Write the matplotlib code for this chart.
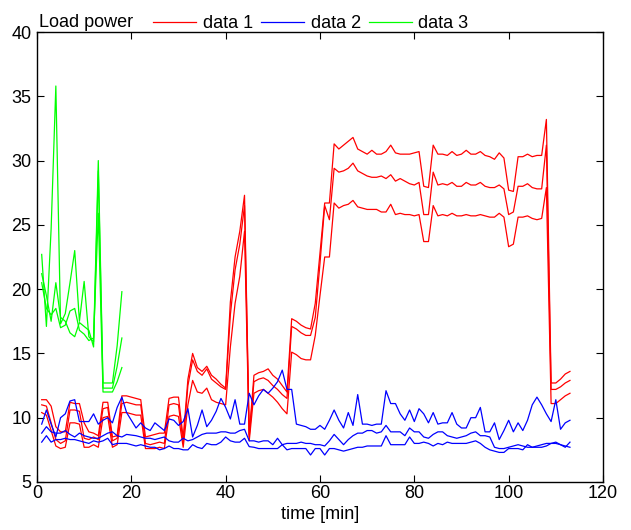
import matplotlib
matplotlib.use('Agg')
import matplotlib.pyplot as plt
import numpy as np
import matplotlib.ticker as ticker

plt.rcParams['font.family'] = ['Liberation Sans', 'DejaVu Sans']

# data 1 (red), three curves
red_lo = [10.4, 10.2, 9.0, 7.8, 7.6, 7.7, 9.6, 9.6, 9.5, 7.7,
          7.7, 7.9, 7.7, 10.0, 10.1, 7.7, 7.9, 10.4, 10.4, 10.3,
          10.2, 10.2, 7.6, 7.6, 7.6, 7.7, 7.6, 10.1, 10.2, 10.1,
          7.7, 11.0, 12.9, 12.0, 11.9, 12.3, 11.4, 11.2, 11.1, 11.0,
          15.5, 18.9, 21.0, 24.5, 8.2, 11.9, 12.1, 12.2, 11.9, 11.6,
          11.2, 10.7, 10.3, 15.1, 14.9, 14.6, 14.5, 14.5, 16.4, 19.5,
          22.5, 22.5, 26.7, 26.3, 26.5, 26.6, 26.9, 26.4, 26.3, 26.2,
          26.2, 26.2, 26.0, 26.0, 26.6, 25.8, 25.9, 25.8, 25.8, 25.7,
          25.8, 23.7, 23.7, 26.5, 25.7, 25.8, 25.7, 25.9, 25.7, 25.7,
          25.8, 25.7, 25.7, 25.8, 25.7, 25.6, 25.6, 25.9, 25.6, 23.3,
          23.5, 25.6, 25.6, 25.7, 25.5, 25.4, 25.5, 27.9, 11.1, 11.1,
          11.4, 11.7, 11.9]
red_mid = [11.0, 10.9, 9.6, 8.3, 8.0, 8.2, 10.6, 10.6, 10.5, 8.4,
           8.3, 8.5, 8.3, 10.7, 10.8, 8.2, 8.4, 11.1, 11.2, 11.1,
           11.0, 11.0, 8.0, 7.9, 8.0, 8.1, 8.0, 11.0, 11.1, 11.0,
           8.0, 12.5, 14.5, 13.6, 13.3, 13.8, 13.0, 12.7, 12.4, 12.2,
           18.0, 21.5, 23.5, 26.5, 8.5, 12.8, 13.0, 13.1, 12.9, 12.5,
           12.2, 11.8, 11.5, 17.1, 16.9, 16.6, 16.4, 16.4, 17.8, 22.0,
           26.5, 25.4, 29.4, 29.1, 29.2, 29.4, 29.8, 29.2, 29.0, 28.8,
           28.7, 28.7, 28.8, 28.6, 28.9, 28.4, 28.6, 28.4, 28.2, 28.1,
           28.3, 25.8, 25.8, 29.1, 28.1, 28.2, 28.1, 28.3, 28.0, 28.0,
           28.3, 28.1, 28.1, 28.3, 28.0, 27.9, 27.9, 28.1, 27.8, 25.8,
           26.0, 28.0, 28.0, 28.2, 27.9, 27.8, 27.8, 31.2, 12.2, 12.2,
           12.4, 12.7, 12.9]
red_hi = [11.4, 11.4, 10.9, 9.3, 8.9, 8.9, 11.2, 11.1, 11.1, 9.6,
          8.9, 8.8, 8.6, 11.2, 11.2, 8.5, 8.6, 11.7, 11.7, 11.6,
          11.5, 11.4, 8.5, 8.6, 8.7, 8.8, 8.8, 11.5, 11.6, 11.6,
          8.4, 13.0, 15.0, 13.9, 13.6, 14.0, 13.3, 13.0, 12.6, 12.3,
          19.0, 22.5, 24.5, 27.3, 8.7, 13.3, 13.5, 13.6, 13.8, 13.3,
          13.0, 12.5, 12.0, 17.7, 17.5, 17.2, 17.0, 16.9, 18.9, 22.8,
          26.7, 26.7, 31.3, 30.9, 31.2, 31.5, 31.8, 30.9, 30.7, 30.5,
          30.8, 30.5, 30.5, 30.7, 31.2, 30.6, 30.5, 30.5, 30.5, 30.6,
          30.7, 28.0, 27.9, 31.2, 30.5, 30.5, 30.4, 30.7, 30.4, 30.5,
          30.8, 30.5, 30.5, 30.7, 30.4, 30.3, 30.1, 30.6, 30.2, 27.7,
          27.6, 30.3, 30.3, 30.5, 30.3, 30.4, 30.4, 33.2, 12.7, 12.7,
          13.0, 13.4, 13.6]

# data 2 (blue), three curves
blue_top = [9.5, 10.6, 9.5, 8.5, 10.0, 10.3, 11.3, 11.4, 9.7, 9.7,
            9.7, 10.3, 9.5, 9.8, 10.0, 9.6, 10.8, 11.6, 10.4, 9.8,
            9.2, 9.6, 9.2, 9.0, 9.6, 9.3, 9.0, 9.9, 9.8, 9.4,
            9.7, 10.7, 8.5, 9.4, 10.6, 9.3, 9.8, 10.5, 11.5, 10.8,
            9.9, 11.4, 9.5, 9.5, 11.9, 11.0, 11.7, 12.2, 11.9, 12.3,
            12.8, 13.7, 12.2, 12.2, 9.5, 9.4, 9.3, 9.1, 9.1, 9.4,
            9.1, 9.8, 10.6, 9.8, 9.2, 10.4, 9.4, 11.8, 9.5, 9.5,
            9.4, 9.5, 9.5, 12.1, 11.1, 11.1, 10.3, 9.8, 10.6, 9.7,
            10.7, 10.3, 9.6, 10.4, 9.5, 9.6, 9.6, 10.4, 9.5, 9.2,
            9.2, 10.0, 10.0, 10.8, 8.9, 8.9, 9.6, 8.3, 9.0, 9.8,
            8.9, 9.6, 9.0, 9.8, 11.0, 11.6, 11.0, 10.3, 9.7, 11.4,
            9.1, 9.6, 9.8]
blue_mid = [8.8, 9.3, 8.9, 8.8, 8.8, 9.0, 8.7, 8.5, 8.8, 8.6,
            8.5, 8.4, 8.4, 8.6, 8.8, 8.9, 8.6, 8.5, 8.7, 8.65,
            8.6, 8.5, 8.4, 8.4, 8.3, 8.4, 8.5, 8.2, 8.1, 8.1,
            8.4, 8.2, 8.3, 8.5, 8.7, 8.8, 8.8, 8.8, 8.9, 8.9,
            8.8, 8.8, 9.0, 9.1, 8.2, 8.2, 8.1, 8.2, 8.2, 7.9,
            8.4, 7.9, 8.0, 8.0, 8.0, 8.1, 8.0, 8.0, 7.9, 7.9,
            7.8, 8.2, 8.7, 8.3, 7.9, 8.3, 8.6, 8.8, 8.8, 9.0,
            9.0, 8.8, 8.9, 9.4, 8.9, 8.9, 8.9, 8.6, 9.2, 8.9,
            8.9, 8.5, 8.4, 8.7, 8.9, 8.9, 8.6, 8.5, 8.4, 8.5,
            8.6, 8.8, 8.9, 8.6, 8.6, 8.5, 7.7, 7.6, 7.6, 7.7,
            7.8, 7.9, 7.8, 7.7, 7.7, 7.8, 7.9, 8.0, 8.0, 8.1,
            7.9, 7.7, 8.1]
blue_low = [8.1, 8.6, 8.1, 8.3, 8.3, 8.4, 8.3, 8.3, 8.2, 8.1,
            8.0, 8.2, 8.1, 8.2, 8.4, 7.9, 8.0, 8.0, 8.0, 7.9,
            7.8, 7.9, 7.8, 7.7, 7.7, 7.5, 7.6, 7.8, 7.6, 7.6,
            7.5, 7.5, 7.9, 7.7, 7.6, 8.0, 7.9, 7.9, 8.1, 8.5,
            8.2, 8.1, 8.1, 8.4, 7.75, 7.7, 7.6, 7.6, 7.6, 7.6,
            7.6, 7.9, 7.5, 7.6, 7.6, 7.6, 7.6, 7.1, 7.6, 7.6,
            7.1, 7.6, 7.6, 7.5, 7.4, 7.5, 7.6, 7.7, 7.7, 7.8,
            7.8, 7.8, 7.8, 8.6, 7.9, 7.9, 7.9, 7.9, 8.5, 8.0,
            8.0, 8.1, 8.0, 7.8, 8.0, 7.9, 8.1, 8.0, 8.0, 8.0,
            8.0, 8.1, 8.2, 8.0, 7.7, 7.5, 7.4, 7.3, 7.3, 7.6,
            7.6, 7.6, 7.5, 7.9, 7.7, 7.7, 7.7, 7.8, 8.0, 8.0,
            7.9, 7.8, 7.7]

# data 3 (green), three curves
green_a = [22.7, 17.1, 24.7, 35.8, 17.3, 18.1, 20.5, 23.0, 17.5,
           20.6, 16.3, 15.9, 30.0, 12.7, 12.7, 12.7, 15.6, 19.8]
green_b = [21.2, 19.5, 17.5, 20.5, 17.8, 17.5, 16.6, 16.3, 17.4,
           17.1, 16.8, 15.5, 29.2, 12.3, 12.3, 12.3, 14.0, 16.2]
green_c = [20.5, 18.5, 18.0, 18.5, 17.0, 17.2, 18.3, 18.5, 16.8,
           16.5, 16.0, 16.2, 25.9, 12.0, 12.0, 12.0, 12.8, 13.9]

t_long = np.arange(1, len(red_lo) + 1)
t_short = np.arange(1, len(green_a) + 1)

fig = plt.figure(figsize=(6.31, 5.30), dpi=100)
ax = fig.add_axes([0.0586, 0.0906, 0.897, 0.849])

lw = 0.9
h1, = ax.plot(t_long, red_lo, c='#ff0000', lw=lw)
ax.plot(t_long, red_mid, c='#ff0000', lw=lw)
ax.plot(t_long, red_hi, c='#ff0000', lw=lw)
h2, = ax.plot(np.arange(1, len(blue_top) + 1), blue_top, c='#0000ff', lw=lw)
ax.plot(np.arange(1, len(blue_mid) + 1), blue_mid, c='#0000ff', lw=lw)
ax.plot(np.arange(1, len(blue_low) + 1), blue_low, c='#0000ff', lw=lw)
h3, = ax.plot(t_short, green_a, c='#00ff00', lw=lw)
ax.plot(t_short, green_b, c='#00ff00', lw=lw)
ax.plot(t_short, green_c, c='#00ff00', lw=lw)

ax.set_xlim(0, 120)
ax.set_ylim(5, 40)
ax.xaxis.set_major_locator(ticker.MultipleLocator(20))
ax.yaxis.set_major_locator(ticker.MultipleLocator(5))
ax.tick_params(direction='in', top=True, right=True, length=5, width=0.8,
               labelsize=13)
ax.tick_params(axis='x', pad=2)
ax.tick_params(axis='y', pad=4)
for s in ax.spines.values():
    s.set_linewidth(1.0)
ax.set_xlabel('time [min]', fontsize=13, labelpad=3)

ax.text(0.004, 1.003, 'Load power', transform=ax.transAxes, fontsize=13,
        ha='left', va='bottom')
ax.legend([h1, h2, h3], ['data 1', 'data 2', 'data 3'], ncol=3,
          loc='lower left', bbox_to_anchor=(0.205, 1.0), frameon=False,
          fontsize=13, handlelength=2.4, handletextpad=0.35,
          columnspacing=0.45, borderaxespad=0, borderpad=0)

fig.savefig('out.png', dpi=100)
